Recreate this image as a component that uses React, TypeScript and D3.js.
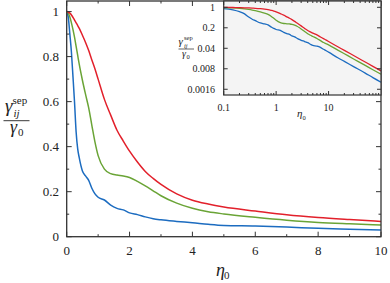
import React from "react";
import * as d3 from "d3";

const eta = [0, 0.05, 0.1, 0.15, 0.2, 0.25, 0.3, 0.35, 0.4, 0.5, 0.6, 0.7, 0.8, 0.9, 1.0, 1.2, 1.4, 1.6, 1.8, 2.0, 2.25, 2.5, 2.75, 3, 3.5, 4, 4.5, 5, 6, 7, 8, 9, 10, 15, 20, 30, 50, 70, 100];
const redVals = [1, 0.998, 0.993, 0.985, 0.974, 0.962, 0.95, 0.938, 0.925, 0.895, 0.863, 0.827, 0.785, 0.745, 0.70, 0.61, 0.54, 0.473, 0.425, 0.38, 0.332, 0.29, 0.259, 0.232, 0.19, 0.162, 0.145, 0.132, 0.114, 0.097, 0.085, 0.076, 0.068, 0.045, 0.034, 0.0227, 0.0136, 0.0097, 0.0068];
const greenVals = [1, 0.993, 0.976, 0.95, 0.92, 0.885, 0.845, 0.805, 0.765, 0.695, 0.632, 0.572, 0.495, 0.42, 0.36, 0.30, 0.28, 0.274, 0.27, 0.263, 0.246, 0.226, 0.204, 0.182, 0.149, 0.126, 0.111, 0.101, 0.086, 0.073, 0.063, 0.057, 0.052, 0.0347, 0.026, 0.0173, 0.0104, 0.0074, 0.0052];
const blueVals = [1, 0.975, 0.9, 0.82, 0.71, 0.595, 0.465, 0.39, 0.35, 0.292, 0.27, 0.25, 0.215, 0.19, 0.175, 0.163, 0.14, 0.126, 0.119, 0.106, 0.098, 0.088, 0.08, 0.075, 0.068, 0.062, 0.055, 0.05, 0.0476, 0.043, 0.037, 0.033, 0.0296, 0.019, 0.0143, 0.0095, 0.0057, 0.004, 0.0028];

const xTicks = [0, 2, 4, 6, 8, 10];
const yTicks = [0, 0.2, 0.4, 0.6, 0.8, 1];
const insetXTicks = [0.1, 1, 10];
const insetYTicks = [1, 0.2, 0.04, 0.008, 0.0016];
const insetYLabels = ["1", "0.2", "0.04", "0.008", "0.0016"];

const series = [
  { name: "blue", vals: blueVals, color: "#1c6cc0" },
  { name: "green", vals: greenVals, color: "#6aa436" },
  { name: "red", vals: redVals, color: "#e2202b" },
];

const AX = "#333";
const CSS = `svg.chart text { font-family: "Liberation Serif", "Times New Roman", Tinos; }`;

function T_({ x, y, size, italic, anchor, children }: { x: number; y: number; size: number; italic?: boolean; anchor?: string; children: React.ReactNode }) {
  return (
    <text
      x={x}
      y={y}
      fontSize={size}
      fontFamily="Liberation Serif"
      fontStyle={italic ? "italic" : "normal"}
      textAnchor={anchor || "start"}
      fill="#222"
    >
      {children}
    </text>
  );
}

export default function App() {
  const L = 66.7, R = 381, T = 1, B = 236.7;
  const x = d3.scaleLinear().domain([0, 10]).range([L, R]);
  const y = d3.scaleLinear().domain([0, 1.047]).range([B, T]);

  const iL = 223.7, iR = 381, iT = 1, iB = 95;
  const ix = d3.scaleLog().domain([0.1, 100]).range([iL, iR]);
  const iy = d3.scaleLog().domain([0.00102, 1.64]).range([iB, iT]);

  const mainLine = (vals: number[]) =>
    d3.line<number>()
      .x((_, i) => x(eta[i]))
      .y((v) => y(v))
      .curve(d3.curveMonotoneX)(vals.filter((_, i) => eta[i] <= 10)) as string;

  const insetIdx = eta.map((e, i) => i).filter((i) => eta[i] >= 0.1);
  const insetLine = (vals: number[]) =>
    d3.line<number>()
      .x((i) => ix(eta[i]))
      .y((i) => iy(vals[i]))
      .curve(d3.curveMonotoneX)(insetIdx) as string;

  const minorX = d3.range(1, 10, 2);
  const minorY = d3.range(0.1, 1.05, 0.2);

  const insetMinor: number[] = [];
  [0.1, 1, 10].forEach((d) => {
    for (let k = 2; k <= 9; k++) insetMinor.push(d * k);
  });

  return (
    <svg className="chart" width={390} height={283} style={{ position: "absolute", left: 0, top: 0 }}>
      <style>{CSS}</style>
      <rect x={0} y={0} width={390} height={283} fill="white" />
      <defs>
        <clipPath id="mainclip">
          <rect x={L} y={T} width={R - L} height={B - T} />
        </clipPath>
        <clipPath id="insetclip">
          <rect x={iL} y={iT} width={iR - iL} height={iB - iT} />
        </clipPath>
      </defs>

      <g clipPath="url(#mainclip)">
        {series.map((s) => (
          <path key={s.name} d={mainLine(s.vals)} fill="none" stroke={s.color} strokeWidth={1.5} />
        ))}
      </g>

      {xTicks.map((t) => (
        <g key={"xt" + t}>
          <line x1={x(t)} x2={x(t)} y1={B} y2={B - 5} stroke={AX} strokeWidth={1} />
          <line x1={x(t)} x2={x(t)} y1={T} y2={T + 5} stroke={AX} strokeWidth={1} />
          <T_ x={x(t)} y={254.5} size={13} anchor="middle">{t}</T_>
        </g>
      ))}
      {minorX.map((t) => (
        <g key={"xm" + t}>
          <line x1={x(t)} x2={x(t)} y1={B} y2={B - 2.5} stroke={AX} strokeWidth={1} />
          <line x1={x(t)} x2={x(t)} y1={T} y2={T + 2.5} stroke={AX} strokeWidth={1} />
        </g>
      ))}
      {yTicks.map((t) => (
        <g key={"yt" + t}>
          <line x1={L} x2={L + 5} y1={y(t)} y2={y(t)} stroke={AX} strokeWidth={1} />
          <line x1={R} x2={R - 5} y1={y(t)} y2={y(t)} stroke={AX} strokeWidth={1} />
          <T_ x={59} y={y(t) + 4.5} size={13} anchor="end">{String(t)}</T_>
        </g>
      ))}
      {minorY.map((t) => (
        <g key={"ym" + t}>
          <line x1={L} x2={L + 2.5} y1={y(t)} y2={y(t)} stroke={AX} strokeWidth={1} />
          <line x1={R} x2={R - 2.5} y1={y(t)} y2={y(t)} stroke={AX} strokeWidth={1} />
        </g>
      ))}
      <rect x={L} y={T} width={R - L} height={B - T} fill="none" stroke={AX} strokeWidth={1.3} />

      <T_ x={5} y={112} size={19} italic>γ</T_>
      <T_ x={13.5} y={116.5} size={11} italic>ij</T_>
      <T_ x={12.5} y={104} size={11}>sep</T_>
      <line x1={3.5} x2={29.5} y1={120.7} y2={120.7} stroke="#222" strokeWidth={0.9} />
      <T_ x={10} y={133} size={18} italic>γ</T_>
      <T_ x={18} y={136} size={11}>0</T_>

      <T_ x={216} y={276} size={18} italic>η</T_>
      <T_ x={224} y={279} size={11}>0</T_>

      <rect x={iL} y={iT} width={iR - iL} height={iB - iT} fill="#f4f4f4" />
      <g clipPath="url(#insetclip)">
        {series.map((s) => (
          <path key={"i" + s.name} d={insetLine(s.vals)} fill="none" stroke={s.color} strokeWidth={1.3} />
        ))}
      </g>
      {insetXTicks.map((t) => (
        <g key={"ixt" + t}>
          <line x1={ix(t)} x2={ix(t)} y1={iB} y2={iB - 4} stroke={AX} strokeWidth={1} />
          <line x1={ix(t)} x2={ix(t)} y1={iT} y2={iT + 4} stroke={AX} strokeWidth={1} />
          <T_ x={ix(t)} y={111} size={10} anchor="middle">{String(t)}</T_>
        </g>
      ))}
      {insetMinor.map((t) => (
        <g key={"ixm" + t}>
          <line x1={ix(t)} x2={ix(t)} y1={iB} y2={iB - 2} stroke={AX} strokeWidth={1} />
          <line x1={ix(t)} x2={ix(t)} y1={iT} y2={iT + 2} stroke={AX} strokeWidth={1} />
        </g>
      ))}
      {insetYTicks.map((t, i) => (
        <g key={"iyt" + t}>
          <line x1={iL} x2={iL + 4} y1={iy(t)} y2={iy(t)} stroke={AX} strokeWidth={1} />
          <line x1={iR} x2={iR - 4} y1={iy(t)} y2={iy(t)} stroke={AX} strokeWidth={1} />
          <T_ x={215} y={iy(t) + 3.5} size={10} anchor="end">{insetYLabels[i]}</T_>
        </g>
      ))}
      <rect x={iL} y={iT} width={iR - iL} height={iB - iT} fill="none" stroke={AX} strokeWidth={1.2} />

      <T_ x={178.5} y={45} size={11} italic>γ</T_>
      <T_ x={184} y={47.5} size={6.5} italic>ij</T_>
      <T_ x={184} y={40} size={6.5}>sep</T_>
      <line x1={178.5} x2={194} y1={49} y2={49} stroke="#222" strokeWidth={0.7} />
      <T_ x={182} y={56.5} size={10} italic>γ</T_>
      <T_ x={186.5} y={58.5} size={6.5}>0</T_>

      <T_ x={297} y={117} size={11} italic>η</T_>
      <T_ x={302.5} y={119.5} size={6.5}>0</T_>
    </svg>
  );
}
